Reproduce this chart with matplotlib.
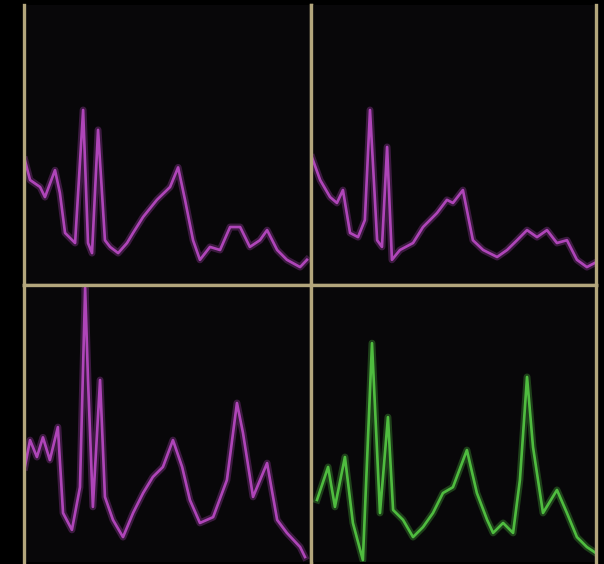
import numpy as np
import matplotlib.pyplot as plt

# four traces, time in % of panel width, level in % of panel height
t1 = [0.3, 2.1, 5.6, 7.3, 10.8, 12.5, 14.3, 17.8, 20.6, 22.3, 23.7, 25.8, 28.2, 30.0,
      32.8, 35.9, 38.0, 41.5, 46.3, 50.9, 53.7, 56.1, 58.9, 61.3, 64.8, 68.3, 71.8,
      75.3, 78.7, 82.2, 84.7, 88.2, 91.6, 96.2, 98.6]
v1 = [44.6, 37.5, 35.0, 31.4, 41.0, 32.9, 18.6, 15.0, 62.5, 15.0, 11.4, 55.4, 16.0, 13.6,
      11.4, 15.0, 18.6, 24.3, 30.4, 35.0, 42.0, 30.4, 16.0, 9.0, 13.6, 12.5, 20.7,
      20.7, 13.6, 16.0, 19.6, 12.5, 9.0, 6.4, 9.0]

t2 = [0.4, 3.2, 6.7, 9.1, 11.2, 13.7, 16.5, 18.9, 20.7, 23.2, 24.9, 26.7, 28.4, 31.2,
      35.8, 39.3, 44.2, 47.7, 49.8, 53.3, 56.8, 60.4, 65.3, 68.8, 72.3, 75.8, 79.3,
      82.8, 86.3, 89.8, 93.3, 96.8, 99.6]
v2 = [45.4, 37.5, 31.4, 29.3, 33.9, 18.6, 17.1, 23.2, 62.5, 16.0, 13.6, 49.3, 9.0, 12.5,
      15.0, 20.7, 25.7, 30.4, 29.3, 33.9, 16.0, 12.5, 10.0, 12.5, 16.0, 19.6, 17.1,
      19.6, 15.0, 16.0, 9.0, 6.4, 7.9]

t3 = [0.3, 2.1, 4.5, 6.6, 9.0, 11.8, 13.6, 16.7, 19.5, 21.3, 22.3, 24.0, 26.5, 28.2,
      31.0, 34.5, 38.0, 41.5, 44.9, 48.4, 51.9, 55.1, 57.8, 61.3, 65.9, 70.7, 74.2,
      76.3, 79.8, 84.7, 88.2, 91.6, 96.2, 97.9]
v3 = [34.3, 44.0, 37.9, 45.0, 36.8, 48.7, 17.7, 11.6, 27.0, 99.0, 65.7, 19.9, 65.7, 23.5,
      15.2, 9.0, 17.7, 24.9, 30.7, 34.3, 44.0, 34.3, 22.4, 14.1, 16.2, 29.6, 57.4,
      46.6, 23.5, 35.7, 15.2, 10.5, 5.4, 1.8]

t4 = [2.1, 6.0, 8.4, 11.9, 14.7, 18.2, 21.4, 24.2, 27.0, 28.8, 32.3, 35.8, 39.3, 42.8,
      46.3, 49.8, 54.7, 58.2, 61.8, 63.9, 67.4, 70.9, 73.3, 75.8, 77.9, 81.4, 86.3,
      89.8, 93.3, 96.8, 100.0]
v4 = [22.4, 34.3, 19.9, 37.9, 14.1, 0.7, 79.0, 17.7, 52.3, 18.8, 15.2, 9.0, 12.6, 17.7,
      24.9, 27.0, 40.4, 24.9, 15.2, 10.5, 14.1, 10.5, 29.6, 66.8, 41.5, 17.7, 26.0,
      17.7, 9.0, 5.4, 3.2]

magenta = '#b648c0'
green = '#52c442'
tan = '#b3a67c'

fig = plt.figure(figsize=(6.04, 5.64), dpi=100, facecolor='black')

# axes boxes in figure fractions: left, bottom, width, height
boxes = [(24/604, 279/564, 287/604, 280/564),
         (311/604, 279/564, 285/604, 280/564),
         (24/604, 2/564, 287/604, 277/564),
         (311/604, 2/564, 285/604, 277/564)]
traces = [(t1, v1, magenta), (t2, v2, magenta), (t3, v3, magenta), (t4, v4, green)]

for i, (box, (t, v, col)) in enumerate(zip(boxes, traces)):
    ax = fig.add_axes(box)
    ax.set_facecolor('#080709')
    # soft glow under the trace, the source is a blurry screen capture
    ax.plot(t, v, color=col, lw=5, alpha=0.3, solid_joinstyle='round')
    ax.plot(t, v, color=col, lw=1.9, alpha=0.95, solid_joinstyle='round')
    ax.set_xlim(0, 100)
    ax.set_ylim(0, 100)
    ax.set_xticks([])
    ax.set_yticks([])
    for s in ax.spines.values():
        s.set_color(tan)
        s.set_linewidth(2.4)
    ax.spines['top'].set_visible(i >= 2)
    ax.spines['bottom'].set_visible(i < 2)

fig.savefig('out.png', dpi=100, facecolor='black')
